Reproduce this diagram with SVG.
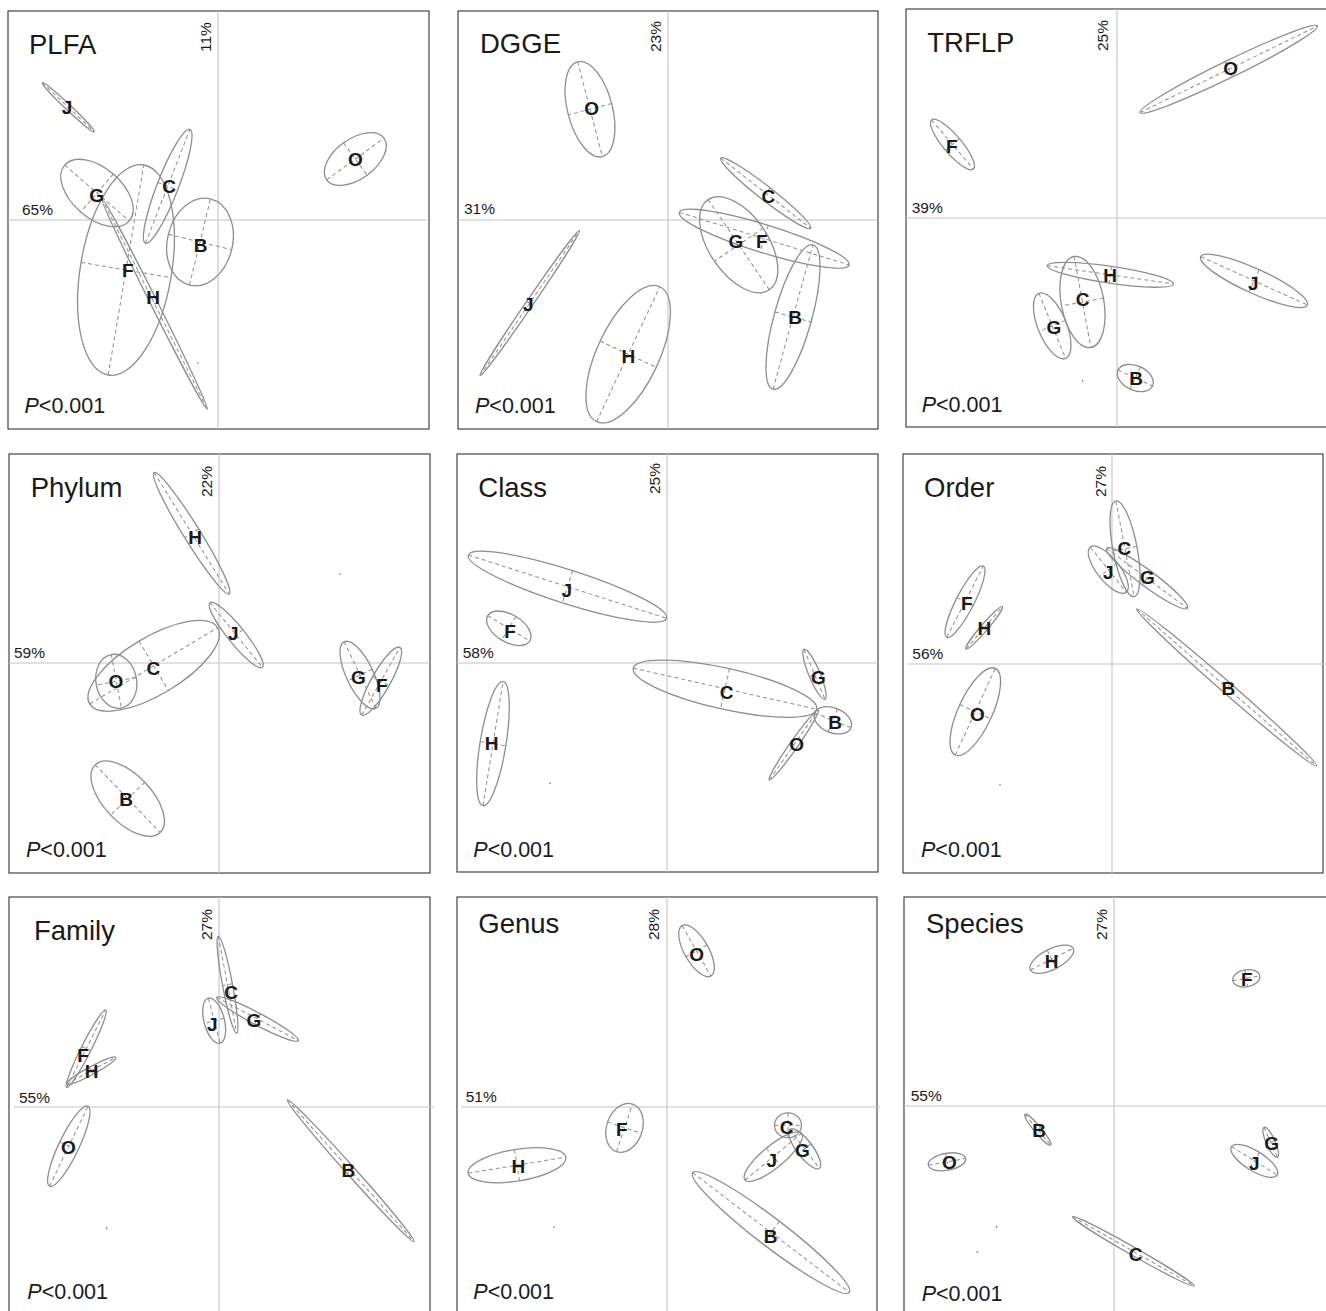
<svg xmlns="http://www.w3.org/2000/svg" width="1326" height="1311" viewBox="0 0 1326 1311">
<style>
.frame{fill:none;stroke:#333;stroke-width:1.1}
.axis{stroke:#c4c4c4;stroke-width:1.1}
.el ellipse{fill:none;stroke:#8e8e8e;stroke-width:1.3}
.el line{stroke:#8e8e8e;stroke-width:1;stroke-dasharray:4,3}
.lbl{font-family:"Liberation Sans",Arial,sans-serif;font-weight:bold;font-size:19px;fill:#1a1a1a;text-anchor:middle}
.title{font-family:"Liberation Sans",Arial,sans-serif;font-size:27.5px;fill:#1a1a1a}
.pct{font-family:"Liberation Sans",Arial,sans-serif;font-size:15.5px;fill:#1a1a1a}
.pv{font-family:"Liberation Sans",Arial,sans-serif;font-size:21.5px;fill:#1a1a1a}
.dot{fill:#444}
</style>
<rect width="1326" height="1311" fill="#fff"/>

<!-- PLFA -->
<g id="panel-plfa">
<rect class="frame" x="8" y="11" width="421" height="418"/>
<line class="axis" x1="218" y1="11" x2="218" y2="429"/>
<line class="axis" x1="8" y1="220" x2="429" y2="220"/>
<text class="title" x="29" y="53.5">PLFA</text>
<text class="pct" x="22" y="215">65%</text>
<text class="pct" transform="translate(211,52) rotate(-90)">11%</text>
<text class="pv" x="24.5" y="412.5"><tspan font-style="italic">P</tspan>&lt;0.001</text>
<circle class="dot" cx="198" cy="363" r="0.7"/>
<g id="plfa-J" class="el" transform="translate(68.3,107.3) rotate(43.5)"><ellipse rx="35.8" ry="2.8"/><line x1="-35.8" x2="35.8"/><line y1="-2.8" y2="2.8"/></g>
<g id="plfa-O" class="el" transform="translate(355.3,159) rotate(-36)"><ellipse rx="35.4" ry="20"/><line x1="-35.4" x2="35.4"/><line y1="-20" y2="20"/></g>
<g id="plfa-G" class="el" transform="translate(97,193) rotate(40.8)"><ellipse rx="42.7" ry="25"/><line x1="-42.7" x2="42.7"/><line y1="-25" y2="25"/></g>
<g id="plfa-C" class="el" transform="translate(167.7,186.3) rotate(-68.7)"><ellipse rx="61" ry="10.6"/><line x1="-61" x2="61"/><line y1="-10.6" y2="10.6"/></g>
<g id="plfa-F" class="el" transform="translate(126,270) rotate(-80.4)"><ellipse rx="106.5" ry="45.6"/><line x1="-106.5" x2="106.5"/><line y1="-45.6" y2="45.6"/></g>
<g id="plfa-H" class="el" transform="translate(154.5,303.8) rotate(63.4)"><ellipse rx="118" ry="3.5"/><line x1="-118" x2="118"/><line y1="-3.5" y2="3.5"/></g>
<g id="plfa-B" class="el" transform="translate(200,242) rotate(-76.3)"><ellipse rx="44.3" ry="32.6"/><line x1="-44.3" x2="44.3"/><line y1="-32.6" y2="32.6"/></g>
<text class="lbl" x="67" y="114">J</text>
<text class="lbl" x="355.3" y="166">O</text>
<text class="lbl" x="96.7" y="202">G</text>
<text class="lbl" x="169" y="193">C</text>
<text class="lbl" x="127.7" y="277">F</text>
<text class="lbl" x="153" y="304">H</text>
<text class="lbl" x="200.7" y="252">B</text>
</g>

<!-- DGGE -->
<g id="panel-dgge">
<rect class="frame" x="458" y="11" width="420" height="418"/>
<line class="axis" x1="668" y1="11" x2="668" y2="429"/>
<line class="axis" x1="458" y1="220" x2="878" y2="220"/>
<text class="title" x="480" y="52.7">DGGE</text>
<text class="pct" x="464" y="214">31%</text>
<text class="pct" transform="translate(660.5,52) rotate(-90)">23%</text>
<text class="pv" x="475" y="413"><tspan font-style="italic">P</tspan>&lt;0.001</text>
<g id="dgge-O" class="el" transform="translate(590,109.2) rotate(75.4)"><ellipse rx="49" ry="22.4"/><line x1="-49" x2="49"/><line y1="-22.4" y2="22.4"/></g>
<g id="dgge-C" class="el" transform="translate(765.7,193.2) rotate(38)"><ellipse rx="57" ry="7"/><line x1="-57" x2="57"/><line y1="-7" y2="7"/></g>
<g id="dgge-F" class="el" transform="translate(764.2,238.7) rotate(17.2)"><ellipse rx="88.8" ry="14"/><line x1="-88.8" x2="88.8"/><line y1="-14" y2="14"/></g>
<g id="dgge-G" class="el" transform="translate(738.7,244.7) rotate(55.8)"><ellipse rx="54.5" ry="29.4"/><line x1="-54.5" x2="54.5"/><line y1="-29.4" y2="29.4"/></g>
<g id="dgge-B" class="el" transform="translate(793,317) rotate(-74.5)"><ellipse rx="74.9" ry="18.8"/><line x1="-74.9" x2="74.9"/><line y1="-18.8" y2="18.8"/></g>
<g id="dgge-J" class="el" transform="translate(529.7,303.2) rotate(-55.6)"><ellipse rx="87.9" ry="3.5"/><line x1="-87.9" x2="87.9"/><line y1="-3.5" y2="3.5"/></g>
<g id="dgge-H" class="el" transform="translate(628.2,354.2) rotate(-64.9)"><ellipse rx="74.5" ry="31"/><line x1="-74.5" x2="74.5"/><line y1="-31" y2="31"/></g>
<text class="lbl" x="591.7" y="115.3">O</text>
<text class="lbl" x="768.3" y="203">C</text>
<text class="lbl" x="761.7" y="247.7">F</text>
<text class="lbl" x="736" y="247.7">G</text>
<text class="lbl" x="795" y="324.3">B</text>
<text class="lbl" x="528.3" y="311">J</text>
<text class="lbl" x="628.3" y="363">H</text>
</g>

<!-- TRFLP -->
<g id="panel-trflp">
<rect class="frame" x="906" y="9" width="430" height="418"/>
<line class="axis" x1="1117" y1="9" x2="1117" y2="427"/>
<line class="axis" x1="906" y1="218" x2="1326" y2="218"/>
<text class="title" x="927.3" y="51.7">TRFLP</text>
<text class="pct" x="911.7" y="213">39%</text>
<text class="pct" transform="translate(1108,51) rotate(-90)">25%</text>
<text class="pv" x="921.7" y="411.7"><tspan font-style="italic">P</tspan>&lt;0.001</text>
<circle class="dot" cx="1082.7" cy="381" r="0.7"/>
<g id="trflp-O" class="el" transform="translate(1228.7,69.3) rotate(-26)"><ellipse rx="98.7" ry="8.5"/><line x1="-98.7" x2="98.7"/><line y1="-8.5" y2="8.5"/></g>
<g id="trflp-F" class="el" transform="translate(952.5,144.5) rotate(49.6)"><ellipse rx="32.2" ry="9.1"/><line x1="-32.2" x2="32.2"/><line y1="-9.1" y2="9.1"/></g>
<g id="trflp-H" class="el" transform="translate(1110.3,274.8) rotate(8.3)"><ellipse rx="63.7" ry="8.5"/><line x1="-63.7" x2="63.7"/><line y1="-8.5" y2="8.5"/></g>
<g id="trflp-C" class="el" transform="translate(1082.5,302) rotate(79.6)"><ellipse rx="46.3" ry="21.3"/><line x1="-46.3" x2="46.3"/><line y1="-21.3" y2="21.3"/></g>
<g id="trflp-G" class="el" transform="translate(1052.2,325.8) rotate(67.7)"><ellipse rx="35.1" ry="14.3"/><line x1="-35.1" x2="35.1"/><line y1="-14.3" y2="14.3"/></g>
<g id="trflp-J" class="el" transform="translate(1254,280.8) rotate(24.4)"><ellipse rx="58.5" ry="12.3"/><line x1="-58.5" x2="58.5"/><line y1="-12.3" y2="12.3"/></g>
<g id="trflp-B" class="el" transform="translate(1135.3,378) rotate(25)"><ellipse rx="19" ry="12.2"/><line x1="-19" x2="19"/><line y1="-12.2" y2="12.2"/></g>
<text class="lbl" x="1230.7" y="75.3">O</text>
<text class="lbl" x="951.7" y="153">F</text>
<text class="lbl" x="1110" y="282.3">H</text>
<text class="lbl" x="1082.7" y="306.3">C</text>
<text class="lbl" x="1054" y="334.3">G</text>
<text class="lbl" x="1253.3" y="290.3">J</text>
<text class="lbl" x="1136" y="385.3">B</text>
</g>

<!-- Phylum -->
<g id="panel-phylum">
<rect class="frame" x="9" y="454" width="421" height="419"/>
<line class="axis" x1="219" y1="454" x2="219" y2="873"/>
<line class="axis" x1="9" y1="663" x2="430" y2="663"/>
<text class="title" x="30.7" y="496.7">Phylum</text>
<text class="pct" x="14" y="658">59%</text>
<text class="pct" transform="translate(212,497) rotate(-90)">22%</text>
<text class="pv" x="26" y="857.3"><tspan font-style="italic">P</tspan>&lt;0.001</text>
<circle class="dot" cx="340" cy="574" r="0.7"/>
<g id="phylum-H" class="el" transform="translate(191.7,533.3) rotate(58.2)"><ellipse rx="71.4" ry="8.3"/><line x1="-71.4" x2="71.4"/><line y1="-8.3" y2="8.3"/></g>
<g id="phylum-J" class="el" transform="translate(236.2,635) rotate(51)"><ellipse rx="41.6" ry="8.5"/><line x1="-41.6" x2="41.6"/><line y1="-8.5" y2="8.5"/></g>
<g id="phylum-C" class="el" transform="translate(153.7,665.8) rotate(-30.8)"><ellipse rx="74.5" ry="28.7"/><line x1="-74.5" x2="74.5"/><line y1="-28.7" y2="28.7"/></g>
<g id="phylum-O" class="el" transform="translate(116.3,681.3) rotate(79.4)"><ellipse rx="27.2" ry="20.3"/><line x1="-27.2" x2="27.2"/><line y1="-20.3" y2="20.3"/></g>
<g id="phylum-B" class="el" transform="translate(127.7,798.7) rotate(46.2)"><ellipse rx="46.9" ry="23.7"/><line x1="-46.9" x2="46.9"/><line y1="-23.7" y2="23.7"/></g>
<g id="phylum-G" class="el" transform="translate(360,675) rotate(64.6)"><ellipse rx="36.9" ry="13.5"/><line x1="-36.9" x2="36.9"/><line y1="-13.5" y2="13.5"/></g>
<g id="phylum-F" class="el" transform="translate(380.8,681.2) rotate(-60.5)"><ellipse rx="38.9" ry="9.4"/><line x1="-38.9" x2="38.9"/><line y1="-9.4" y2="9.4"/></g>
<text class="lbl" x="195" y="543.7">H</text>
<text class="lbl" x="233.3" y="640.3">J</text>
<text class="lbl" x="153.3" y="674.7">C</text>
<text class="lbl" x="116" y="687.7">O</text>
<text class="lbl" x="126" y="806.3">B</text>
<text class="lbl" x="358.3" y="683.7">G</text>
<text class="lbl" x="381.7" y="692">F</text>
</g>

<!-- Class -->
<g id="panel-class">
<rect class="frame" x="457" y="454" width="421" height="418"/>
<line class="axis" x1="667" y1="454" x2="667" y2="872"/>
<line class="axis" x1="457" y1="663" x2="878" y2="663"/>
<text class="title" x="478.3" y="496.7">Class</text>
<text class="pct" x="462.7" y="658">58%</text>
<text class="pct" transform="translate(660,494) rotate(-90)">25%</text>
<text class="pv" x="473.3" y="857.3"><tspan font-style="italic">P</tspan>&lt;0.001</text>
<circle class="dot" cx="550" cy="783.3" r="0.7"/>
<g id="class-J" class="el" transform="translate(567.5,586.7) rotate(17.7)"><ellipse rx="104" ry="16.9"/><line x1="-104" x2="104"/><line y1="-16.9" y2="16.9"/></g>
<g id="class-F" class="el" transform="translate(508.8,628.3) rotate(31)"><ellipse rx="24.5" ry="13.8"/><line x1="-24.5" x2="24.5"/><line y1="-13.8" y2="13.8"/></g>
<g id="class-H" class="el" transform="translate(493,743.7) rotate(-80.8)"><ellipse rx="62.8" ry="13"/><line x1="-62.8" x2="62.8"/><line y1="-13" y2="13"/></g>
<g id="class-C" class="el" transform="translate(725,688.7) rotate(12.6)"><ellipse rx="94" ry="20.5"/><line x1="-94" x2="94"/><line y1="-20.5" y2="20.5"/></g>
<g id="class-G" class="el" transform="translate(814.5,674.3) rotate(67.2)"><ellipse rx="27.1" ry="5.6"/><line x1="-27.1" x2="27.1"/><line y1="-5.6" y2="5.6"/></g>
<g id="class-B" class="el" transform="translate(832.8,720.3) rotate(22)"><ellipse rx="19.6" ry="12.4"/><line x1="-19.6" x2="19.6"/><line y1="-12.4" y2="12.4"/></g>
<g id="class-O" class="el" transform="translate(793.8,745) rotate(-55)"><ellipse rx="42.7" ry="4"/><line x1="-42.7" x2="42.7"/><line y1="-4" y2="4"/></g>
<text class="lbl" x="566.7" y="597">J</text>
<text class="lbl" x="510" y="637.7">F</text>
<text class="lbl" x="491.7" y="749.7">H</text>
<text class="lbl" x="726.7" y="698.7">C</text>
<text class="lbl" x="818.3" y="684.3">G</text>
<text class="lbl" x="835" y="728.7">B</text>
<text class="lbl" x="796.7" y="751">O</text>
</g>

<!-- Order -->
<g id="panel-order">
<rect class="frame" x="903" y="454" width="420" height="419"/>
<line class="axis" x1="1112" y1="454" x2="1112" y2="873"/>
<line class="axis" x1="907" y1="664" x2="1326" y2="664"/>
<text class="title" x="924" y="496.7">Order</text>
<text class="pct" x="912.3" y="659">56%</text>
<text class="pct" transform="translate(1106,497) rotate(-90)">27%</text>
<text class="pv" x="921" y="856.7"><tspan font-style="italic">P</tspan>&lt;0.001</text>
<circle class="dot" cx="1000" cy="785" r="0.7"/>
<g id="order-C" class="el" transform="translate(1125,548.7) rotate(79.2)"><ellipse rx="48.7" ry="12.1"/><line x1="-48.7" x2="48.7"/><line y1="-12.1" y2="12.1"/></g>
<g id="order-J" class="el" transform="translate(1108.3,569.7) rotate(51.6)"><ellipse rx="28.9" ry="11.3"/><line x1="-28.9" x2="28.9"/><line y1="-11.3" y2="11.3"/></g>
<g id="order-G" class="el" transform="translate(1147,578.3) rotate(36.6)"><ellipse rx="50.3" ry="8"/><line x1="-50.3" x2="50.3"/><line y1="-8" y2="8"/></g>
<g id="order-F" class="el" transform="translate(965,601.7) rotate(-62.8)"><ellipse rx="40.1" ry="9"/><line x1="-40.1" x2="40.1"/><line y1="-9" y2="9"/></g>
<g id="order-H" class="el" transform="translate(984.2,627.8) rotate(-49.4)"><ellipse rx="27.9" ry="3.5"/><line x1="-27.9" x2="27.9"/><line y1="-3.5" y2="3.5"/></g>
<g id="order-O" class="el" transform="translate(975.3,711.7) rotate(-65.2)"><ellipse rx="47.7" ry="17"/><line x1="-47.7" x2="47.7"/><line y1="-17" y2="17"/></g>
<g id="order-B" class="el" transform="translate(1226.7,687.5) rotate(41.1)"><ellipse rx="119.4" ry="5.5"/><line x1="-119.4" x2="119.4"/><line y1="-5.5" y2="5.5"/></g>
<text class="lbl" x="1124.3" y="555.3">C</text>
<text class="lbl" x="1108.3" y="578.7">J</text>
<text class="lbl" x="1147.3" y="583.7">G</text>
<text class="lbl" x="966.7" y="610.3">F</text>
<text class="lbl" x="984.3" y="634.7">H</text>
<text class="lbl" x="977.3" y="721">O</text>
<text class="lbl" x="1228.3" y="695.3">B</text>
</g>

<!-- Family -->
<g id="panel-family">
<rect class="frame" x="9" y="897" width="421" height="430"/>
<line class="axis" x1="219" y1="897" x2="219" y2="1311"/>
<line class="axis" x1="14" y1="1107" x2="434" y2="1107"/>
<text class="title" x="34" y="940">Family</text>
<text class="pct" x="19" y="1102.7">55%</text>
<text class="pct" transform="translate(212,940) rotate(-90)">27%</text>
<text class="pv" x="27.3" y="1299"><tspan font-style="italic">P</tspan>&lt;0.001</text>
<circle class="dot" cx="106.7" cy="1228.3" r="0.7"/>
<g id="family-C" class="el" transform="translate(227.5,984.7) rotate(79.3)"><ellipse rx="49.5" ry="5"/><line x1="-49.5" x2="49.5"/><line y1="-5" y2="5"/></g>
<g id="family-J" class="el" transform="translate(214.2,1020.7) rotate(75.5)"><ellipse rx="23.2" ry="10.2"/><line x1="-23.2" x2="23.2"/><line y1="-10.2" y2="10.2"/></g>
<g id="family-G" class="el" transform="translate(257.5,1019) rotate(27.9)"><ellipse rx="46.2" ry="6"/><line x1="-46.2" x2="46.2"/><line y1="-6" y2="6"/></g>
<g id="family-F" class="el" transform="translate(86.2,1048.7) rotate(-63.2)"><ellipse rx="43.3" ry="5"/><line x1="-43.3" x2="43.3"/><line y1="-5" y2="5"/></g>
<g id="family-H" class="el" transform="translate(91.3,1070.7) rotate(-28.4)"><ellipse rx="28" ry="4"/><line x1="-28" x2="28"/><line y1="-4" y2="4"/></g>
<g id="family-O" class="el" transform="translate(68.8,1146.2) rotate(-64.4)"><ellipse rx="44.4" ry="10"/><line x1="-44.4" x2="44.4"/><line y1="-10" y2="10"/></g>
<g id="family-B" class="el" transform="translate(350.7,1170.8) rotate(48.2)"><ellipse rx="95" ry="4.5"/><line x1="-95" x2="95"/><line y1="-4.5" y2="4.5"/></g>
<text class="lbl" x="231" y="998.7">C</text>
<text class="lbl" x="212.3" y="1031">J</text>
<text class="lbl" x="254" y="1027">G</text>
<text class="lbl" x="83" y="1062">F</text>
<text class="lbl" x="91.5" y="1078">H</text>
<text class="lbl" x="68.3" y="1153.7">O</text>
<text class="lbl" x="348.3" y="1177">B</text>
</g>

<!-- Genus -->
<g id="panel-genus">
<rect class="frame" x="457" y="897" width="420" height="430"/>
<line class="axis" x1="667" y1="897" x2="667" y2="1311"/>
<line class="axis" x1="461" y1="1107" x2="880" y2="1107"/>
<text class="title" x="478.3" y="933.3">Genus</text>
<text class="pct" x="465.7" y="1102">51%</text>
<text class="pct" transform="translate(659.3,940) rotate(-90)">28%</text>
<text class="pv" x="473.3" y="1299"><tspan font-style="italic">P</tspan>&lt;0.001</text>
<circle class="dot" cx="554" cy="1227.3" r="0.7"/>
<g id="genus-O" class="el" transform="translate(696.5,950.8) rotate(60.3)"><ellipse rx="29" ry="12.1"/><line x1="-29" x2="29"/><line y1="-12.1" y2="12.1"/></g>
<g id="genus-F" class="el" transform="translate(624.5,1127.8) rotate(-71.4)"><ellipse rx="25.1" ry="17.9"/><line x1="-25.1" x2="25.1"/><line y1="-17.9" y2="17.9"/></g>
<g id="genus-H" class="el" transform="translate(517,1165.2) rotate(-9.3)"><ellipse rx="49.5" ry="15.8"/><line x1="-49.5" x2="49.5"/><line y1="-15.8" y2="15.8"/></g>
<g id="genus-C" class="el" transform="translate(788,1125.3) rotate(0)"><ellipse rx="13.5" ry="12.5"/><line x1="-13.5" x2="13.5"/><line y1="-12.5" y2="12.5"/></g>
<g id="genus-G" class="el" transform="translate(804.7,1148.8) rotate(53)"><ellipse rx="24.4" ry="8"/><line x1="-24.4" x2="24.4"/><line y1="-8" y2="8"/></g>
<g id="genus-J" class="el" transform="translate(773.3,1156.7) rotate(-39.5)"><ellipse rx="36.7" ry="11"/><line x1="-36.7" x2="36.7"/><line y1="-11" y2="11"/></g>
<g id="genus-B" class="el" transform="translate(771,1232.5) rotate(37.4)"><ellipse rx="98.6" ry="14"/><line x1="-98.6" x2="98.6"/><line y1="-14" y2="14"/></g>
<text class="lbl" x="696.7" y="961">O</text>
<text class="lbl" x="621.7" y="1136.3">F</text>
<text class="lbl" x="518.3" y="1173">H</text>
<text class="lbl" x="786.7" y="1133.7">C</text>
<text class="lbl" x="802.3" y="1157">G</text>
<text class="lbl" x="771.7" y="1167">J</text>
<text class="lbl" x="770.7" y="1243">B</text>
</g>

<!-- Species -->
<g id="panel-species">
<rect class="frame" x="904" y="897" width="430" height="430"/>
<line class="axis" x1="1114" y1="897" x2="1114" y2="1311"/>
<line class="axis" x1="904" y1="1106" x2="1326" y2="1106"/>
<text class="title" x="926" y="933.3">Species</text>
<text class="pct" x="910.7" y="1100.7">55%</text>
<text class="pct" transform="translate(1107,940) rotate(-90)">27%</text>
<text class="pv" x="921.7" y="1300.7"><tspan font-style="italic">P</tspan>&lt;0.001</text>
<circle class="dot" cx="996.7" cy="1226.7" r="0.7"/>
<circle class="dot" cx="977.3" cy="1251.7" r="0.7"/>
<g id="species-H" class="el" transform="translate(1051.8,959.2) rotate(-26.9)"><ellipse rx="24" ry="10.2"/><line x1="-24" x2="24"/><line y1="-10.2" y2="10.2"/></g>
<g id="species-F" class="el" transform="translate(1246.3,978.3) rotate(-10)"><ellipse rx="13.7" ry="8.5"/><line x1="-13.7" x2="13.7"/><line y1="-8.5" y2="8.5"/></g>
<g id="species-B" class="el" transform="translate(1037.8,1129.7) rotate(50)"><ellipse rx="20" ry="3.5"/><line x1="-20" x2="20"/><line y1="-3.5" y2="3.5"/></g>
<g id="species-O" class="el" transform="translate(947,1161.8) rotate(-10)"><ellipse rx="19" ry="8.5"/><line x1="-19" x2="19"/><line y1="-8.5" y2="8.5"/></g>
<g id="species-G" class="el" transform="translate(1270.7,1142.3) rotate(66)"><ellipse rx="16.4" ry="4.5"/><line x1="-16.4" x2="16.4"/><line y1="-4.5" y2="4.5"/></g>
<g id="species-J" class="el" transform="translate(1254.3,1160.8) rotate(31.8)"><ellipse rx="26.9" ry="9.9"/><line x1="-26.9" x2="26.9"/><line y1="-9.9" y2="9.9"/></g>
<g id="species-C" class="el" transform="translate(1133.3,1251.3) rotate(29.7)"><ellipse rx="69.9" ry="4"/><line x1="-69.9" x2="69.9"/><line y1="-4" y2="4"/></g>
<text class="lbl" x="1051.7" y="967.7">H</text>
<text class="lbl" x="1246.7" y="986.3">F</text>
<text class="lbl" x="1039" y="1137">B</text>
<text class="lbl" x="949.3" y="1168.7">O</text>
<text class="lbl" x="1271.7" y="1150.3">G</text>
<text class="lbl" x="1254.3" y="1170.3">J</text>
<text class="lbl" x="1135.7" y="1261">C</text>
</g>
</svg>
